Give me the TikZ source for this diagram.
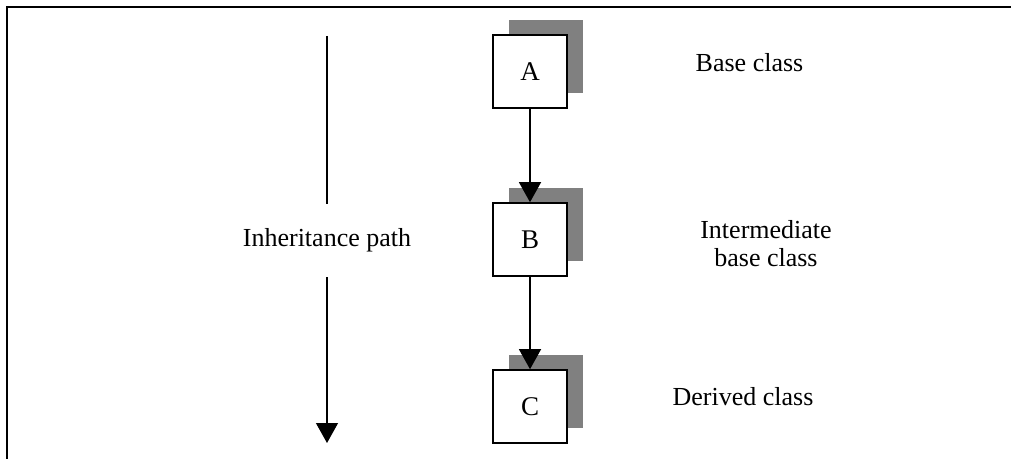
\documentclass[tikz,border=0pt]{standalone}
\usepackage{fontspec}
\setmainfont{Liberation Serif}
\usepackage{tikz}
\usetikzlibrary{arrows.meta,shadows}

\begin{document}
\begin{tikzpicture}[x=0.5pt,y=-0.5pt,
	cls/.style={draw, line width=0.8pt, fill=white, inner sep=0pt,
		minimum width=37pt, minimum height=36.5pt, font=\fontsize{13.5}{14}\selectfont,
		drop shadow={shadow xshift=8pt, shadow yshift=7.5pt, fill=gray, opacity=1}},
	txt/.style={align=center, font=\fontsize{13}{14}\selectfont},
	tip/.style={-{Triangle[width=11pt,length=10pt]}, line width=0.65pt}]
	\useasboundingbox (0,0) rectangle (1011,459);
	%\draw (7,7) rectangle (1011,459);
	\draw[line width=1pt] (7,459) -- (7,7) -- (1011,7);
	% classes
	\node[cls] (A) at (530,71.5) {A};
	\node[cls] (B) at (530,239.5) {B};
	\node[cls] (C) at (530,406.5) {C};
	\node[txt, anchor=base] (baseA) at (749.5,72) {Base class};
	\node[txt] (baseB) at (766,244) {Intermediate\\base class};
	\node[txt, anchor=base] (baseC) at (743,405) {Derived class};
	% inheritance path
	\node[txt, inner sep=0pt, minimum height=36.5pt] (path) at (327,240.5) {Inheritance path};
	\coordinate (top) at (327,36);
	\coordinate (bot) at (327,443);
	\draw[line width=0.65pt] (top) -- (path.north);
	\draw[tip] (path.south) -- (bot);
	\path[tip]
	(A) edge (B)
	(B) edge (C)
	;
\end{tikzpicture}
\end{document}
